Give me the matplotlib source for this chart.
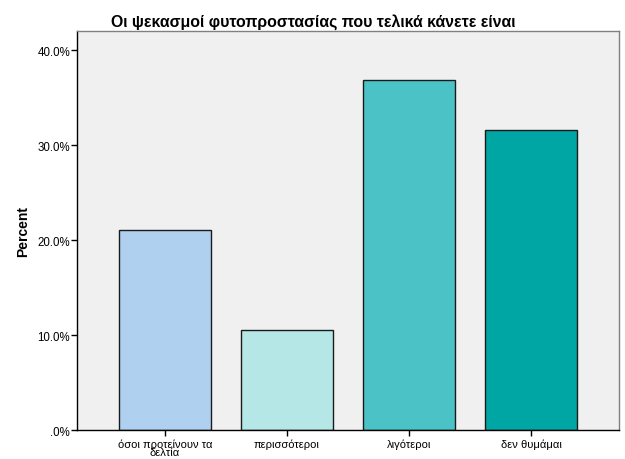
import matplotlib
matplotlib.use("Agg")
import matplotlib.pyplot as plt
from matplotlib.ticker import FuncFormatter

plt.rcParams['font.family'] = ['Liberation Sans', 'DejaVu Sans']

title = "Οι ψεκασμοί φυτοπροστασίας που τελικά κάνετε είναι"
categories = ["όσοι προτείνουν τα\nδελτία", "περισσότεροι", "λιγότεροι", "δεν θυμάμαι"]
percents = [21.05, 10.53, 36.84, 31.58]
colors = ["#afd0ee", "#b5e7e6", "#4bc3c6", "#00a6a3"]
yticks = [0, 10, 20, 30, 40]

fig = plt.figure(figsize=(6.25, 4.6), dpi=100)
ax = fig.add_axes([0.1232, 0.063, 0.8672, 0.8674])
ax.set_facecolor("#f0f0f0")

x = list(range(len(categories)))
ax.bar(x, percents, width=0.75, color=colors, edgecolor="#1a1a1a", linewidth=1.0, zorder=2)

ax.set_xlim(-0.72, len(categories) - 1 + 0.72)
ax.set_ylim(0, 42)
ax.set_yticks(yticks)
ax.yaxis.set_major_formatter(FuncFormatter(lambda v, p: ".0%" if v == 0 else f"{v:.1f}%"))
ax.set_xticks(x)
ax.set_xticklabels(categories, fontsize=8, linespacing=0.8)
ax.tick_params(axis='y', labelsize=8.3, length=4, width=1, pad=1)
ax.tick_params(axis='x', length=4, width=1, pad=2)

ax.set_ylabel("Percent", fontsize=10, fontweight='bold', labelpad=5)
ax.set_title(title, fontsize=11.4, fontweight='bold', pad=4, x=0.435)

ax.spines['left'].set_color('black')
ax.spines['bottom'].set_color('black')
ax.spines['top'].set_color('#808080')
ax.spines['right'].set_color('#808080')
for s in ax.spines.values():
    s.set_linewidth(1.0)

fig.savefig("out.png", dpi=100)
